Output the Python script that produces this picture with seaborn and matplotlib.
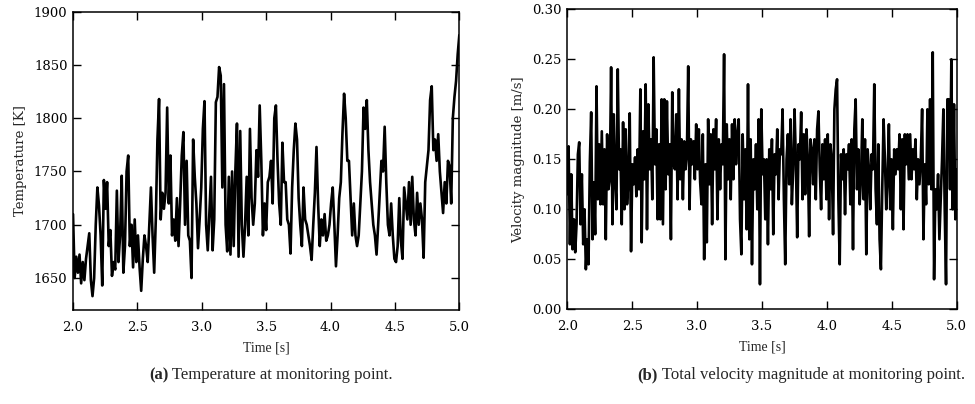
import numpy as np
import pandas as pd
import matplotlib
matplotlib.use("Agg")
import matplotlib.pyplot as plt
import seaborn as sns

# Monitoring point signals, sampled uniformly between 2 s and 5 s
temperature_K = [
    1710, 1650, 1670, 1655, 1672, 1645, 1665, 1648, 1668, 1680,
    1692, 1648, 1633, 1650, 1700, 1735, 1718, 1690, 1643, 1742,
    1715, 1740, 1680, 1695, 1652, 1665, 1658, 1732, 1665, 1690,
    1746, 1655, 1680, 1750, 1765, 1680, 1700, 1660, 1705, 1665,
    1690, 1660, 1638, 1668, 1690, 1680, 1665, 1700, 1735, 1690,
    1655, 1705, 1780, 1818, 1705, 1730, 1715, 1730, 1810, 1720,
    1765, 1690, 1705, 1685, 1725, 1680, 1720, 1765, 1787, 1700,
    1760, 1690, 1685, 1650, 1780, 1745, 1720, 1678, 1705, 1735,
    1790, 1816, 1700, 1676, 1710, 1745, 1676, 1705, 1815, 1820,
    1848, 1840, 1735, 1832, 1700, 1675, 1745, 1672, 1750, 1680,
    1750, 1795, 1670,
    1788, 1700, 1670, 1700, 1745, 1690, 1790, 1725, 1700, 1720,
    1770, 1745, 1812, 1760, 1690, 1720, 1695, 1740, 1745, 1760,
    1720, 1800, 1812, 1760, 1720, 1700, 1777, 1740, 1740, 1705,
    1700, 1673, 1735, 1770, 1795, 1780, 1725, 1700, 1680, 1735,
    1705, 1700, 1690, 1680, 1667, 1700, 1730, 1773, 1720, 1680,
    1705, 1690, 1710, 1685, 1690, 1700, 1720, 1735, 1700, 1661,
    1690, 1725, 1740, 1786, 1823, 1800, 1760, 1760, 1725, 1690,
    1720, 1690, 1680, 1690, 1720, 1750, 1810, 1790, 1817, 1770,
    1740, 1720, 1700, 1690, 1672, 1700, 1730, 1760, 1750, 1792,
    1740, 1700, 1690, 1720, 1690, 1668, 1665, 1680, 1725, 1685,
    1668, 1735, 1720, 1705, 1740, 1700, 1745, 1705, 1690, 1730,
    1700, 1720, 1705, 1669, 1740, 1755, 1770, 1817, 1830, 1770,
    1780, 1760, 1785, 1750, 1730, 1711, 1740, 1720, 1760, 1755,
    1720, 1800, 1820, 1835, 1860, 1878,
]

velocity_ms = [
    0.115, 0.163, 0.065, 0.135, 0.060, 0.090, 0.057, 0.085, 0.155, 0.167,
    0.085, 0.135, 0.065, 0.100, 0.040, 0.070, 0.045, 0.147, 0.197, 0.070,
    0.127, 0.075, 0.223, 0.110, 0.165, 0.105, 0.178, 0.105, 0.160, 0.070,
    0.175, 0.120, 0.130, 0.242, 0.085, 0.195, 0.130, 0.100, 0.240, 0.140,
    0.160, 0.085, 0.187, 0.100, 0.180, 0.105, 0.130, 0.196, 0.058, 0.145,
    0.125, 0.152, 0.113, 0.160, 0.120, 0.220, 0.067, 0.178, 0.130, 0.225,
    0.080, 0.205, 0.140, 0.170, 0.110, 0.252, 0.145, 0.180, 0.090, 0.165,
    0.090, 0.210, 0.085, 0.210, 0.120, 0.208, 0.135, 0.165, 0.070, 0.217,
    0.145, 0.140, 0.195, 0.110, 0.220, 0.130, 0.170, 0.110, 0.168, 0.140,
    0.155, 0.243, 0.100, 0.170, 0.145, 0.168, 0.130, 0.185, 0.140, 0.180,
    0.127, 0.105, 0.175, 0.050, 0.145, 0.067, 0.190, 0.125, 0.175, 0.085,
    0.180, 0.140, 0.190, 0.090, 0.170, 0.120, 0.165, 0.145, 0.255, 0.050,
    0.185, 0.130, 0.170, 0.110, 0.185, 0.130, 0.190, 0.145, 0.175,
    0.190, 0.090, 0.055, 0.175, 0.110, 0.160, 0.080, 0.225, 0.070, 0.170,
    0.045, 0.150, 0.120, 0.165, 0.100, 0.190, 0.025, 0.200, 0.135, 0.150,
    0.090, 0.150, 0.065, 0.160, 0.120, 0.170, 0.075, 0.155, 0.135, 0.180,
    0.110, 0.160, 0.155, 0.200, 0.110, 0.045, 0.150, 0.175, 0.125, 0.190,
    0.105, 0.140, 0.200, 0.150, 0.072, 0.165, 0.150, 0.197, 0.110, 0.175,
    0.115, 0.180, 0.150, 0.073, 0.170, 0.160, 0.125, 0.170, 0.110, 0.180,
    0.198, 0.140, 0.100, 0.165, 0.130, 0.170, 0.110, 0.175, 0.090, 0.165,
    0.150, 0.075, 0.200, 0.220, 0.230, 0.110, 0.045, 0.155, 0.130, 0.160,
    0.095, 0.155, 0.140, 0.165, 0.105, 0.170, 0.060, 0.180, 0.210, 0.120,
    0.160, 0.105, 0.130, 0.190, 0.110, 0.170, 0.055, 0.160, 0.140, 0.100,
    0.155, 0.140, 0.225, 0.120, 0.085, 0.165, 0.070, 0.040, 0.120, 0.190,
    0.150, 0.100, 0.130, 0.185, 0.100, 0.150, 0.080, 0.160, 0.135, 0.160,
    0.140, 0.175, 0.100, 0.170, 0.080, 0.175, 0.145, 0.175, 0.130, 0.175,
    0.130, 0.160, 0.140, 0.170, 0.110, 0.150, 0.125, 0.150, 0.200, 0.070,
    0.145, 0.105, 0.200, 0.125, 0.210, 0.120, 0.257, 0.030, 0.120, 0.100,
    0.135, 0.070, 0.110, 0.150, 0.200, 0.100, 0.025, 0.210, 0.210, 0.120,
    0.250, 0.100, 0.205, 0.090, 0.140,
]

temp_ticks = [1650, 1700, 1750, 1800, 1850, 1900]
vel_ticks = [0.00, 0.05, 0.10, 0.15, 0.20, 0.25, 0.30]
time_ticks = [2.0, 2.5, 3.0, 3.5, 4.0, 4.5, 5.0]

temp_df = pd.DataFrame({
    "time": np.linspace(2.0, 5.0, len(temperature_K)),
    "value": temperature_K,
})
vel_df = pd.DataFrame({
    "time": np.linspace(2.0, 5.0, len(velocity_ms)),
    "value": velocity_ms,
})

sns.set_style("ticks")
plt.rcParams["font.family"] = ["DejaVu Serif"]
plt.rcParams["axes.linewidth"] = 1.1
plt.rcParams["axes.edgecolor"] = "black"

fig = plt.figure(figsize=(9.75, 4.04), dpi=100)
ax_t = fig.add_axes([0.0749, 0.2327, 0.3962, 0.7384])
ax_v = fig.add_axes([0.5818, 0.2344, 0.3994, 0.7426])

panels = [
    (ax_t, temp_df, (1620, 1900), temp_ticks, "Temperature [K]",
     lambda v: f"{v:d}"),
    (ax_v, vel_df, (0.0, 0.30), vel_ticks, "Velocity magnitude [m/s]",
     lambda v: f"{v:.2f}"),
]

for ax, df, ylim, yticks, ylabel, fmt in panels:
    sns.lineplot(data=df, x="time", y="value", ax=ax, color="black",
                 linewidth=1.9, estimator=None, sort=False)
    ax.set_xlim(2.0, 5.0)
    ax.set_ylim(*ylim)
    ax.set_xticks(time_ticks)
    ax.set_xticklabels([f"{t:.1f}" for t in time_ticks])
    ax.set_yticks(yticks)
    ax.set_yticklabels([fmt(v) for v in yticks])
    ax.tick_params(direction="in", length=5.5, width=1.0, top=True,
                   right=True, labelsize=9.5, colors="black")
    ax.tick_params(axis="x", pad=8)
    ax.tick_params(axis="y", pad=4)
    ax.set_ylabel(ylabel, fontsize=9.5, labelpad=5)
    ax.set_xlabel("Time [s]", fontsize=10, family=["Liberation Serif"],
                  labelpad=5)
    for s in ax.spines.values():
        s.set_visible(True)
        s.set_color("black")

# Sub-figure captions
cap_kw = dict(fontsize=12, family=["Liberation Serif"], va="center",
              ha="left")
for label, text, xc in [("(a)", " Temperature at monitoring point.", 271),
                        ("(b)", " Total velocity magnitude at monitoring point.", 801)]:
    t1 = fig.text(0, 0, label, fontweight="bold", **cap_kw)
    t2 = fig.text(0, 0, text, **cap_kw)
    fig.canvas.draw()
    r = fig.canvas.get_renderer()
    w1 = t1.get_window_extent(r).width
    w2 = t2.get_window_extent(r).width
    x0 = (xc - (w1 + w2) / 2) / 975
    y0 = 1 - 375 / 404
    t1.set_position((x0, y0))
    t2.set_position((x0 + w1 / 975, y0))

fig.savefig("out.png", dpi=100)
